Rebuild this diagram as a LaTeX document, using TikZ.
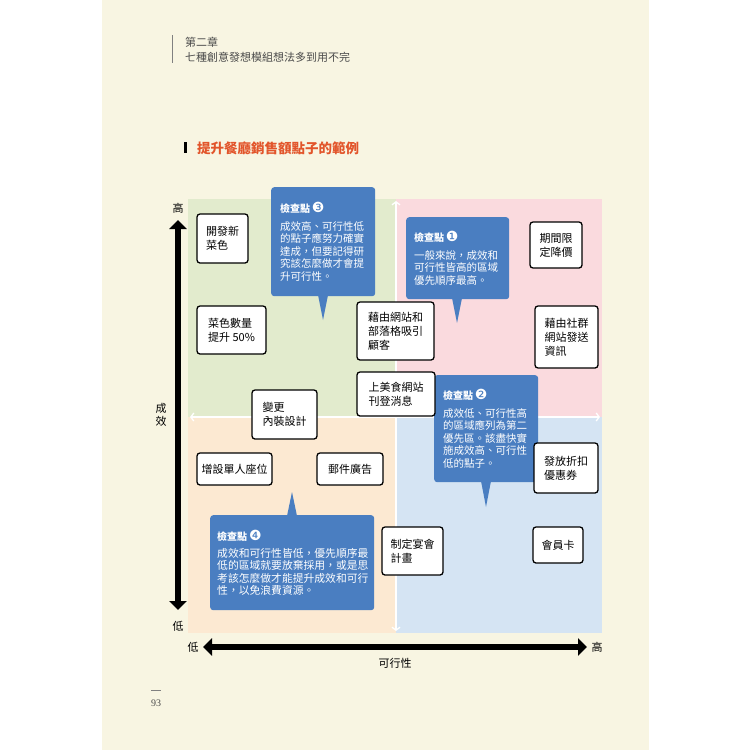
\documentclass[tikz,border=0pt]{standalone}
\usepackage{fontspec}
\setmainfont{Noto Sans CJK TC}
\newfontfamily\djv{DejaVu Sans}
\newfontfamily\serifnum{Liberation Serif}
\usetikzlibrary{arrows.meta}
\definecolor{cream}{HTML}{F8F5E2}
\definecolor{qgreen}{HTML}{E2EBCD}
\definecolor{qpink}{HTML}{FADADE}
\definecolor{qpeach}{HTML}{FCE9D2}
\definecolor{qblue}{HTML}{D5E4F3}
\definecolor{cblue}{HTML}{4A7EC1}
\definecolor{titlered}{HTML}{E2552B}
\definecolor{hdr}{HTML}{4A4A4A}
\tikzset{
  idea/.style={draw=black, line width=1.3pt, fill=white, rounded corners=3pt,
    align=left, font=\fontsize{11}{14}\selectfont, inner sep=0pt, text=black},
  wh/.style 2 args={minimum width=#1pt, minimum height=#2pt},
  callout/.style={fill=cblue, rounded corners=3pt, text=white, align=left,
    anchor=north west, font=\fontsize{10.5}{12.5}\selectfont, inner xsep=9pt, inner ysep=0pt},
  plain/.style={inner sep=0pt, font=\fontsize{11}{13}\selectfont, text=black},
  bigarrow/.style={line width=6pt, {Triangle[length=9pt,width=17pt]}-{Triangle[length=9pt,width=17pt]}},
  divider/.style={white, line width=1.3pt, {Straight Barb[length=3pt,width=8pt]}-{Straight Barb[length=3pt,width=8pt]}}
}
\newcommand{\cktitle}[1]{{\bfseries\fontsize{10}{12}\selectfont 檢查點}\,{\djv\fontsize{14}{12}\selectfont #1}\\[5pt]}
\begin{document}
\begin{tikzpicture}[x=1pt,y=-1pt]
\useasboundingbox (0,0) rectangle (750,750);
\fill[white] (0,0) rectangle (750,750);
\fill[cream] (102,0) rectangle (649,750);

% header
\draw[hdr!70, line width=0.8pt] (172,35) -- (172,63);
\node[plain, anchor=west, text=hdr] (chap) at (185,42) {第二章};
\node[plain, anchor=west, text=hdr] (sub) at (185,57) {七種創意發想模組想法多到用不完};

% title
\fill[black] (184,142) rectangle (187,153);
\node[plain, anchor=west, text=titlered, font=\bfseries\fontsize{13.5}{15}\selectfont] (title) at (197,148) {提升餐廳銷售額點子的範例};

% quadrants
\fill[qgreen] (188,199) rectangle (396,417);
\fill[qpink] (396,199) rectangle (602,417);
\fill[qpeach] (188,417) rectangle (396,633);
\fill[qblue] (396,417) rectangle (602,633);
\coordinate (vt) at (396,201);
\coordinate (vb) at (396,631);
\coordinate (hl) at (190,417);
\coordinate (hr) at (600,417);
\draw[divider] (vt) -- (vb);
\draw[divider] (hl) -- (hr);

% axes
\node[plain] (yhi) at (178,208) {高};
\node[plain] (ylo) at (178,626) {低};
\node[plain, align=center, font=\fontsize{11}{13}\selectfont] (ylab) at (161,415) {成\\效};
\coordinate (yt) at (178,220);
\coordinate (yb) at (178,610);
\draw[bigarrow] (yt) -- (yb);
\node[plain] (xlo) at (193,647) {低};
\node[plain] (xhi) at (597,647) {高};
\node[plain] (xlab) at (395,663) {可行性};
\coordinate (xl) at (203,647);
\coordinate (xr) at (587,647);
\draw[bigarrow] (xl) -- (xr);

% page number
\draw[hdr!70, line width=0.6pt] (151,690) -- (161,690);
\node[plain, text=hdr, font=\serifnum\fontsize{10}{12}\selectfont] (pg) at (156,703) {93};

% callouts
\fill[cblue] (318,295) -- (328,295) -- (323,320) -- cycle;
\node[callout, text width=86pt, minimum height=109pt] (c3) at (271,187)
  {\cktitle{❸}成效高、可行性低\\的點子應努力確實\\達成，但要記得研\\究該怎麼做才會提\\升可行性。};
\fill[cblue] (452,298) -- (462,298) -- (457,323) -- cycle;
\node[callout, text width=87pt, minimum height=82pt, inner xsep=8pt] (c1) at (406,217)
  {\cktitle{❶}一般來說，成效和\\可行性皆高的區域\\優先順序最高。};
\fill[cblue] (481,481) -- (491,481) -- (486,507) -- cycle;
\node[callout, text width=86pt, minimum height=107pt] (c2) at (434,375)
  {\cktitle{❷}成效低、可行性高\\的區域應列為第二\\優先區。該盡快實\\施成效高、可行性\\低的點子。};
\fill[cblue] (287,516) -- (297,516) -- (292,492) -- cycle;
\node[callout, text width=150pt, minimum height=95pt, inner xsep=7pt,
  font=\fontsize{10.8}{12.3}\selectfont] (c4) at (210,515)
  {\cktitle{❹}成效和可行性皆低，優先順序最\\低的區域就要放棄採用，或是思\\考該怎麼做才能提升成效和可行\\性，以免浪費資源。};

% idea boxes
\node[idea, wh={51}{49}] (b1) at (222.5,238.5) {開發新\\菜色};
\node[idea, wh={69}{48}] (b2) at (231.5,330) {菜色數量\\提升 50\%};
\node[idea, wh={77}{58}] (b3) at (395.5,331) {藉由網站和\\部落格吸引\\顧客};
\node[idea, wh={52}{46}] (b4) at (556,245) {期間限\\定降價};
\node[idea, wh={63}{62}] (b5) at (566.5,337) {藉由社群\\網站發送\\資訊};
\node[idea, wh={78}{44}] (b6) at (396,394) {上美食網站\\刊登消息};
\node[idea, wh={65}{49}] (b7) at (284.5,414.5) {變更\\內裝設計};
\node[idea, wh={75}{32}] (b8) at (234.5,469) {增設單人座位};
\node[idea, wh={66}{32}] (b9) at (350,469) {郵件廣告};
\node[idea, wh={61}{48}] (b10) at (412.5,551) {制定宴會\\計畫};
\node[idea, wh={64}{50}] (b11) at (566,468) {發放折扣\\優惠券};
\node[idea, wh={50}{36}] (b12) at (558,545) {會員卡};
\end{tikzpicture}
\end{document}
